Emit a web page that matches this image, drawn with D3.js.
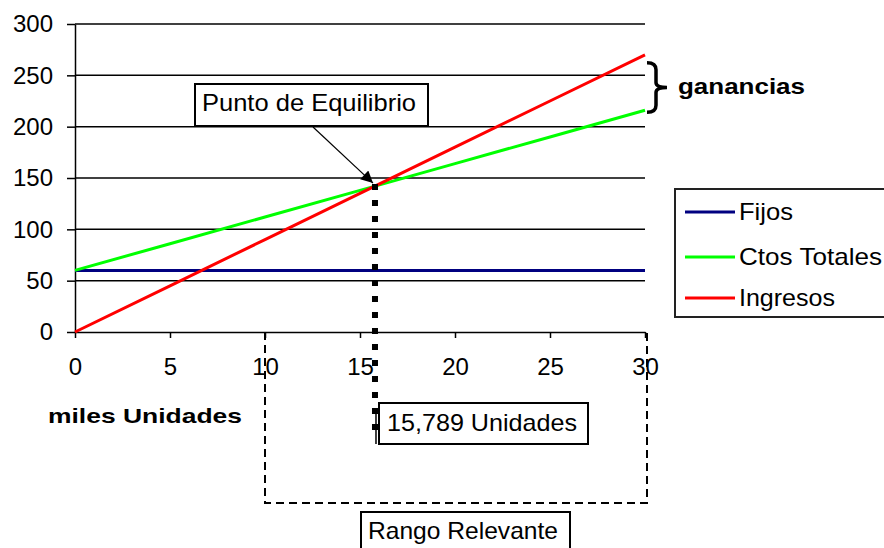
<!DOCTYPE html>
<html>
<head>
<meta charset="utf-8">
<script src="https://cdn.jsdelivr.net/npm/d3@7"></script>
<style>
  html, body { margin: 0; padding: 0; background: #fff; }
  svg { display: block; }
  text { font-family: "Liberation Sans", Arial, sans-serif; fill: #000; }
</style>
</head>
<body>
<svg id="chart" width="884" height="548"></svg>
<script>
// Thousands of units produced
const units = [0, 5, 10, 15, 20, 25, 30];
// Fixed costs, total costs and revenue (same units as the y axis)
const fijos = [60, 60, 60, 60, 60, 60, 60];
const ctosTotales = [60, 86, 112, 138, 164, 190, 216];
const ingresos = [0, 45, 90, 135, 180, 225, 270];

const seriesNames = ["Fijos", "Ctos Totales", "Ingresos"];
const seriesColors = ["#000080", "#00ff00", "#ff0000"];

const yTicks = [0, 50, 100, 150, 200, 250, 300];
const xTicks = [0, 5, 10, 15, 20, 25, 30];

// Break-even quantity (thousands of units) and relevant range
const breakEvenQty = 15.789;
const relevantRange = [10, 30];

const svg = d3.select("#chart");

const x = d3.scaleLinear().domain([0, 30]).range([75, 645]);
const y = d3.scaleLinear().domain([0, 300]).range([332, 24]);

// Horizontal gridlines
svg.append("g")
  .selectAll("line")
  .data(yTicks.filter(d => d > 0))
  .join("line")
  .attr("x1", x(0)).attr("x2", x(30))
  .attr("y1", d => y(d)).attr("y2", d => y(d))
  .attr("stroke", "#000").attr("stroke-width", 1.5);

// Y axis
const yAxis = svg.append("g")
  .attr("transform", `translate(${x(0)},0)`)
  .call(d3.axisLeft(y).tickValues(yTicks).tickSize(8).tickPadding(14).tickSizeOuter(0));
yAxis.select(".domain").attr("stroke", "#000").attr("stroke-width", 1.5);
yAxis.selectAll(".tick line").attr("stroke", "#000").attr("stroke-width", 1.5);
yAxis.selectAll(".tick text").style("font-size", "24px").style("font-family", "Liberation Sans, Arial, sans-serif");

// X axis
const xAxis = svg.append("g")
  .attr("transform", `translate(0,${y(0)})`)
  .call(d3.axisBottom(x).tickValues(xTicks).tickSize(6).tickPadding(20).tickSizeOuter(0));
xAxis.select(".domain").attr("stroke", "#000").attr("stroke-width", 1.5);
xAxis.selectAll(".tick line").attr("stroke", "#000").attr("stroke-width", 1.5);
xAxis.selectAll(".tick text").style("font-size", "24px").style("font-family", "Liberation Sans, Arial, sans-serif");

// Series lines
const line = d3.line().x((d, i) => x(units[i])).y(d => y(d));
[fijos, ctosTotales, ingresos].forEach((vals, i) => {
  svg.append("path")
    .datum(vals)
    .attr("d", line)
    .attr("fill", "none")
    .attr("stroke", seriesColors[i])
    .attr("stroke-width", 3);
});

// Relevant range: dashed frame below the axis
const rangeBottom = 503;
svg.append("path")
  .attr("d", `M${x(relevantRange[0])},${y(0)}V${rangeBottom}H${x(relevantRange[1]) + 2}V${y(0)}`)
  .attr("fill", "none")
  .attr("stroke", "#000")
  .attr("stroke-width", 2)
  .attr("stroke-dasharray", "8,5");

// Break-even: point on the chart and dotted drop line
const beVal = ingresos[ingresos.length - 1] / units[units.length - 1] * breakEvenQty;
svg.append("line")
  .attr("x1", x(breakEvenQty)).attr("x2", x(breakEvenQty))
  .attr("y1", y(beVal) - 2).attr("y2", 440)
  .attr("stroke", "#000").attr("stroke-width", 6)
  .attr("stroke-dasharray", "6,10");
svg.append("line")
  .attr("x1", x(breakEvenQty) + 1).attr("x2", x(breakEvenQty) + 1)
  .attr("y1", 410).attr("y2", 444)
  .attr("stroke", "#000").attr("stroke-width", 1.5);

// Labelled boxes
function labelBox(bx, by, bw, bh, label, tx, ty, tw) {
  svg.append("rect")
    .attr("x", bx).attr("y", by).attr("width", bw).attr("height", bh)
    .attr("fill", "#fff").attr("stroke", "#000").attr("stroke-width", 2);
  svg.append("text")
    .attr("x", tx).attr("y", ty)
    .attr("textLength", tw).attr("lengthAdjust", "spacingAndGlyphs")
    .style("font-size", "24px")
    .text(label);
}

labelBox(195, 84, 233, 42, "Punto de Equilibrio", 202, 111, 214);
labelBox(379, 403, 209, 41, "15,789 Unidades", 387, 431, 190);
labelBox(361, 512, 209, 50, "Rango Relevante", 368, 539, 190);

// Arrow from the label to the break-even point
const defs = svg.append("defs");
defs.append("marker")
  .attr("id", "arrowhead")
  .attr("viewBox", "0 0 10 10")
  .attr("refX", 10).attr("refY", 5)
  .attr("markerWidth", 16).attr("markerHeight", 12)
  .attr("markerUnits", "userSpaceOnUse")
  .attr("orient", "auto")
  .append("path")
  .attr("d", "M0,0L10,5L0,10Z")
  .attr("fill", "#000");
svg.append("line")
  .attr("x1", 313).attr("y1", 127)
  .attr("x2", x(breakEvenQty) - 2).attr("y2", y(beVal) - 3)
  .attr("stroke", "#000").attr("stroke-width", 1.2)
  .attr("marker-end", "url(#arrowhead)");

// Profit brace between revenue and total cost at the end of the range
const braceTop = y(ingresos[ingresos.length - 1]) + 8;
const braceBot = y(ctosTotales[ctosTotales.length - 1]) + 2;
const braceMid = (braceTop + braceBot) / 2;
const bx0 = 647, bx1 = 656, bxTip = 667;
svg.append("path")
  .attr("d",
    `M${bx0},${braceTop}` +
    `Q${bx1},${braceTop} ${bx1},${braceTop + 7}` +
    `V${braceMid - 5}` +
    `Q${bx1},${braceMid} ${bxTip},${braceMid}` +
    `Q${bx1},${braceMid} ${bx1},${braceMid + 5}` +
    `V${braceBot - 7}` +
    `Q${bx1},${braceBot} ${bx0},${braceBot}`)
  .attr("fill", "none")
  .attr("stroke", "#000")
  .attr("stroke-width", 3.5);

svg.append("text")
  .attr("x", 678).attr("y", 94)
  .attr("textLength", 127).attr("lengthAdjust", "spacingAndGlyphs")
  .style("font-size", "22px").style("font-weight", "bold")
  .text("ganancias");

// Axis title
svg.append("text")
  .attr("x", 48).attr("y", 423)
  .attr("textLength", 194).attr("lengthAdjust", "spacingAndGlyphs")
  .style("font-size", "21px").style("font-weight", "bold")
  .text("miles Unidades");

// Legend
const legend = svg.append("g");
legend.append("rect")
  .attr("x", 675).attr("y", 189).attr("width", 230).attr("height", 128)
  .attr("fill", "#fff").attr("stroke", "#222").attr("stroke-width", 2);
const legendRows = [212, 257, 298];
const legendWidths = [54, 143, 96];
seriesNames.forEach((name, i) => {
  legend.append("line")
    .attr("x1", 685).attr("x2", 735)
    .attr("y1", legendRows[i]).attr("y2", legendRows[i])
    .attr("stroke", seriesColors[i]).attr("stroke-width", 3);
  legend.append("text")
    .attr("x", 739).attr("y", legendRows[i] + 8)
    .attr("textLength", legendWidths[i]).attr("lengthAdjust", "spacingAndGlyphs")
    .style("font-size", "24px")
    .text(name);
});
</script>
</body>
</html>
